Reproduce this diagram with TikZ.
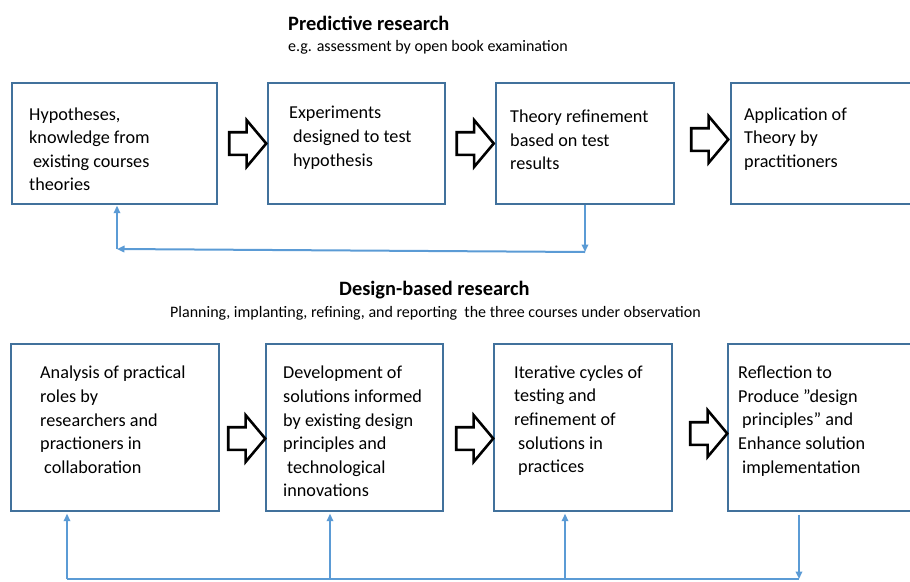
\documentclass[tikz,border=0pt]{standalone}
\usepackage{fontspec}
\setmainfont{Carlito}
\usetikzlibrary{shapes.arrows,arrows.meta}
\definecolor{boxblue}{HTML}{41719C}
\definecolor{linkblue}{HTML}{5B9BD5}
\begin{document}
\begin{tikzpicture}[x=1pt,y=-1pt,
  box/.style={draw=boxblue, line width=1.4pt, rectangle, inner sep=0pt},
  txt/.style={anchor=north west, align=left, inner sep=0pt, font=\fontsize{18.2}{23.6}\selectfont},
  bigarrow/.style={single arrow, draw=black, fill=white, line width=2.6pt, minimum height=37pt,
    inner xsep=0pt, inner ysep=10pt, single arrow head extend=12pt, single arrow tip angle=100},
  link/.style={draw=linkblue, line width=2pt},
  linktip/.style={link, -{Triangle[length=7.5pt,width=6.5pt]}},
  title/.style={anchor=base west, inner sep=0pt, font=\fontsize{20.4}{24}\selectfont\bfseries},
  subtitle/.style={anchor=base west, inner sep=0pt, font=\fontsize{16}{19}\selectfont}]
\useasboundingbox (0,0) rectangle (910,581);

% titles
\node[title] (pt) at (288,30) {Predictive research};
\node[subtitle] (ps) at (288,51) {e.g. assessment by open book examination};
\node[title] (dt) at (339,295) {Design-based research};
\node[subtitle] (ds) at (170,317) {Planning, implanting, refining, and reporting\ \ the three courses under observation};

% top row boxes
\node[box, minimum width=205pt, minimum height=121pt] (b1) at (114.5,143.5) {};
\node[box, minimum width=177pt, minimum height=121pt] (b2) at (356.5,143.5) {};
\node[box, minimum width=178pt, minimum height=121pt] (b3) at (585,143.5) {};
\node[box, minimum width=184pt, minimum height=121pt] (b4) at (823,143.5) {};

\node[txt] (t1) at (29,107.2) {Hypotheses,\\knowledge from\\\hspace*{4pt}existing courses\\theories};
\node[txt] (t2) at (289,106.2) {Experiments\\\hspace*{4pt}designed to test\\\hspace*{4pt}hypothesis};
\node[txt] (t3) at (510,109.6) {Theory refinement\\based on test\\results};
\node[txt] (t4) at (744,107.2) {Application of\\Theory by\\practitioners};

% bottom row boxes
\node[box, minimum width=208pt, minimum height=167pt] (c1) at (115,427.5) {};
\node[box, minimum width=177pt, minimum height=167pt] (c2) at (354.5,427.5) {};
\node[box, minimum width=178pt, minimum height=167pt] (c3) at (583,427.5) {};
\node[box, minimum width=187pt, minimum height=167pt] (c4) at (821.5,427.5) {};

\node[txt] (s1) at (40,366) {Analysis of practical\\roles by\\researchers and\\practioners in\\\hspace*{4pt}collaboration};
\node[txt] (s2) at (283,366) {Development of\\solutions informed\\by existing design\\principles and\\\hspace*{4pt}technological\\innovations};
\node[txt] (s3) at (514,365.5) {Iterative cycles of\\testing and\\refinement of\\\hspace*{4pt}solutions in\\\hspace*{4pt}practices};
\node[txt] (s4) at (738,366) {Reflection to\\Produce ”design\\\hspace*{4pt}principles” and\\Enhance solution\\\hspace*{4pt}implementation};

% block arrows
\node[bigarrow] (a1) at (243,143.5) {};
\node[bigarrow] (a2) at (470.5,143.5) {};
\node[bigarrow] (a3) at (705,139.5) {};
\node[bigarrow] (a4) at (242,438.5) {};
\node[bigarrow] (a5) at (470,438.5) {};
\node[bigarrow] (a6) at (704,433.5) {};

% top feedback loop
\coordinate (k1) at (585,252);
\coordinate (k2) at (117,249);
\draw[linktip] (b3.south) -- (k1);
\draw[linktip] (k1) -- (k2);
\draw[linktip, shorten >=1pt] (k2) -- (k2 |- b1.south);

% bottom feedback loop
\coordinate (m1) at (67,579);
\coordinate (m2) at (330,579);
\coordinate (m3) at (565,579);
\coordinate (m4) at (799,579);
\draw[link] (m4) -- (m1);
\draw[linktip, shorten >=2pt] (m1) -- (m1 |- c1.south);
\draw[linktip, shorten >=2pt] (m2) -- (m2 |- c2.south);
\draw[linktip, shorten >=2pt] (m3) -- (m3 |- c3.south);
\draw[linktip, shorten <=3pt] (m4 |- c4.south) -- (m4);
\end{tikzpicture}
\end{document}
